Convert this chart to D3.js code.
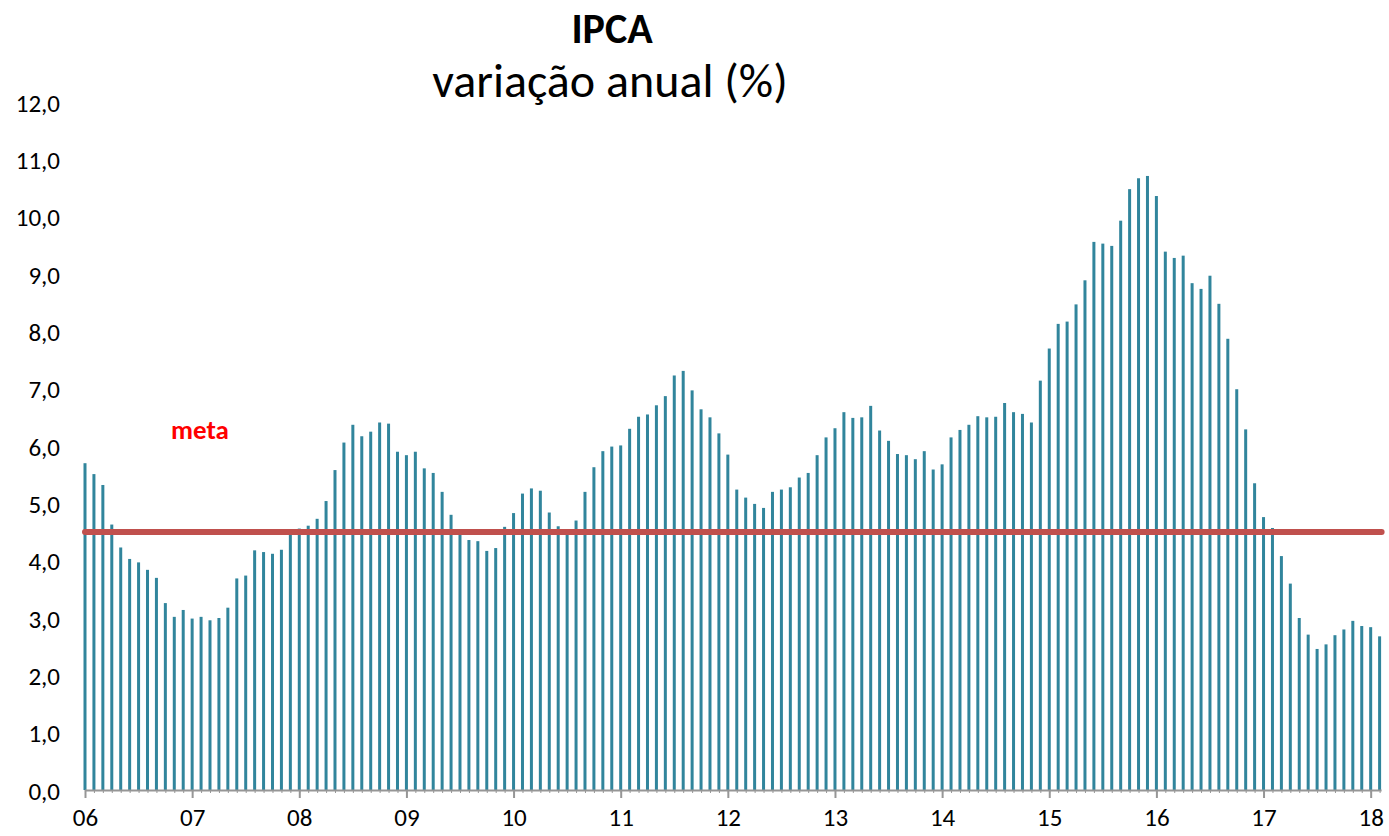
<!DOCTYPE html>
<html>
<head>
<meta charset="utf-8">
<script src="https://cdn.jsdelivr.net/npm/d3@7"></script>
<style>
  html, body { margin: 0; padding: 0; background: #ffffff; }
  svg { display: block; }
  text { font-family: Carlito, Calibri, Lato, "Open Sans", sans-serif; }
</style>
</head>
<body>
<svg id="chart" width="1389" height="836"></svg>
<script>
// ---- DATA (IPCA, 12-month change, %) ----
const categories = [
  "jan/06","fev/06","mar/06","abr/06","mai/06","jun/06","jul/06","ago/06","set/06","out/06","nov/06","dez/06",
  "jan/07","fev/07","mar/07","abr/07","mai/07","jun/07","jul/07","ago/07","set/07","out/07","nov/07","dez/07",
  "jan/08","fev/08","mar/08","abr/08","mai/08","jun/08","jul/08","ago/08","set/08","out/08","nov/08","dez/08",
  "jan/09","fev/09","mar/09","abr/09","mai/09","jun/09","jul/09","ago/09","set/09","out/09","nov/09",
  "jan/10","fev/10","mar/10","abr/10","mai/10","jun/10","jul/10","ago/10","set/10","out/10","nov/10","dez/10",
  "jan/11","fev/11","mar/11","abr/11","mai/11","jun/11","jul/11","ago/11","set/11","out/11","nov/11","dez/11",
  "jan/12","fev/12","mar/12","abr/12","mai/12","jun/12","jul/12","ago/12","set/12","out/12","nov/12","dez/12",
  "jan/13","fev/13","mar/13","abr/13","mai/13","jun/13","jul/13","ago/13","set/13","out/13","nov/13","dez/13",
  "jan/14","fev/14","mar/14","abr/14","mai/14","jun/14","jul/14","ago/14","set/14","out/14","nov/14","dez/14",
  "jan/15","fev/15","mar/15","abr/15","mai/15","jun/15","jul/15","ago/15","set/15","out/15","nov/15","dez/15",
  "jan/16","fev/16","mar/16","abr/16","mai/16","jun/16","jul/16","ago/16","set/16","out/16","nov/16","dez/16",
  "jan/17","fev/17","mar/17","abr/17","mai/17","jun/17","jul/17","ago/17","set/17","out/17","nov/17","dez/17",
  "jan/18","fev/18","mar/18"
];
const ipca = [
  5.70, 5.51, 5.32, 4.63, 4.23, 4.03, 3.97, 3.84, 3.70, 3.26, 3.02, 3.14,
  2.99, 3.02, 2.96, 3.00, 3.18, 3.69, 3.74, 4.18, 4.15, 4.12, 4.19, 4.46,
  4.56, 4.61, 4.73, 5.04, 5.58, 6.06, 6.37, 6.17, 6.25, 6.41, 6.39, 5.90,
  5.84, 5.90, 5.61, 5.53, 5.20, 4.80, 4.50, 4.36, 4.34, 4.17, 4.22,
  4.59, 4.83, 5.17, 5.26, 5.22, 4.84, 4.60, 4.49, 4.70, 5.20, 5.63, 5.91,
  5.99, 6.01, 6.30, 6.51, 6.55, 6.71, 6.87, 7.23, 7.31, 6.97, 6.64, 6.50,
  6.22, 5.85, 5.24, 5.10, 4.99, 4.92, 5.20, 5.24, 5.28, 5.45, 5.53, 5.84,
  6.15, 6.31, 6.59, 6.49, 6.50, 6.70, 6.27, 6.09, 5.86, 5.84, 5.77, 5.91,
  5.59, 5.68, 6.15, 6.28, 6.37, 6.52, 6.50, 6.51, 6.75, 6.59, 6.56, 6.41,
  7.14, 7.70, 8.13, 8.17, 8.47, 8.89, 9.56, 9.53, 9.49, 9.93, 10.48, 10.67,
  10.71, 10.36, 9.39, 9.28, 9.32, 8.84, 8.74, 8.97, 8.48, 7.87, 6.99, 6.29,
  5.35, 4.76, 4.57, 4.08, 3.60, 3.00, 2.71, 2.46, 2.54, 2.70, 2.80, 2.95,
  2.86, 2.84, 2.68
];
const meta = 4.5;
const yTicks = [0, 1, 2, 3, 4, 5, 6, 7, 8, 9, 10, 11, 12];
const xTickLabels = ["06","07","08","09","10","11","12","13","14","15","16","17","18"];
const tickEvery = 12;
const titleText = "IPCA";
const subtitleText = "variação anual (%)";
const metaLabel = "meta";

// ---- LAYOUT ----
const FONT = "Carlito, Calibri, Lato, 'Open Sans', sans-serif";
const svg = d3.select("#chart");
const x0 = 85, x1 = 1379.6, yTop = 102, yBase = 790;

const x = d3.scalePoint().domain(categories).range([x0, x1]);
const y = d3.scaleLinear().domain([0, 12]).range([yBase, yTop]);

const barColor = "#31859c";
const axisColor = "#969696";

// Titles
svg.append("text").attr("x", 612).attr("y", 43).attr("text-anchor", "middle")
  .attr("font-size", 42).attr("font-weight", "bold").attr("fill", "#000").text(titleText);
svg.append("text").attr("x", 610).attr("y", 97).attr("text-anchor", "middle")
  .attr("font-size", 48).attr("fill", "#000").text(subtitleText);

// Bars (drawn as thin rects)
const bw = 3;
svg.append("g").selectAll("rect").data(ipca).join("rect")
  .attr("x", (d, i) => x(categories[i]) - bw / 2)
  .attr("y", d => y(d))
  .attr("width", bw)
  .attr("height", d => y(0) - y(d))
  .attr("fill", barColor);

// Y axis (labels only)
const yAxis = d3.axisLeft(y).tickValues(yTicks).tickSize(0).tickPadding(0)
  .tickFormat(d => d3.format(".1f")(d).replace(".", ","));
const gy = svg.append("g").attr("transform", "translate(60,0)").call(yAxis);
gy.select(".domain").remove();
gy.selectAll("text").attr("font-size", 25).attr("fill", "#000").attr("dy", "0.36em")
  .attr("font-family", FONT);

// X axis: minor ticks at every category, major ticks every 12 with labels
const gMinor = svg.append("g").attr("transform", `translate(0,${yBase})`)
  .call(d3.axisBottom(x).tickValues(categories).tickSize(3).tickFormat(""));
gMinor.select(".domain").remove();
gMinor.selectAll("line").attr("stroke", axisColor).attr("stroke-width", 1);

const majorCats = categories.filter((c, i) => i % tickEvery === 0);
const gx = svg.append("g").attr("transform", `translate(0,${yBase})`)
  .call(d3.axisBottom(x).tickValues(majorCats).tickSize(8).tickPadding(10)
    .tickFormat(c => xTickLabels[categories.indexOf(c) / tickEvery]));
gx.select(".domain").attr("d", `M${x0},0.5H${x1 + 2}`).attr("stroke", axisColor).attr("stroke-width", 2);
gx.selectAll(".tick line").attr("stroke", axisColor).attr("stroke-width", 2);
gx.selectAll(".tick text").attr("font-size", 25).attr("fill", "#000")
  .attr("font-family", FONT);

// Meta line
svg.append("line")
  .attr("x1", x0).attr("x2", x1 + 2)
  .attr("y1", y(meta)).attr("y2", y(meta))
  .attr("stroke", "#c0504d").attr("stroke-width", 6).attr("stroke-linecap", "round");

svg.append("text").attr("x", 200).attr("y", 439).attr("text-anchor", "middle")
  .attr("font-size", 27).attr("font-weight", "bold").attr("fill", "#ff0000").text(metaLabel);
</script>
</body>
</html>
